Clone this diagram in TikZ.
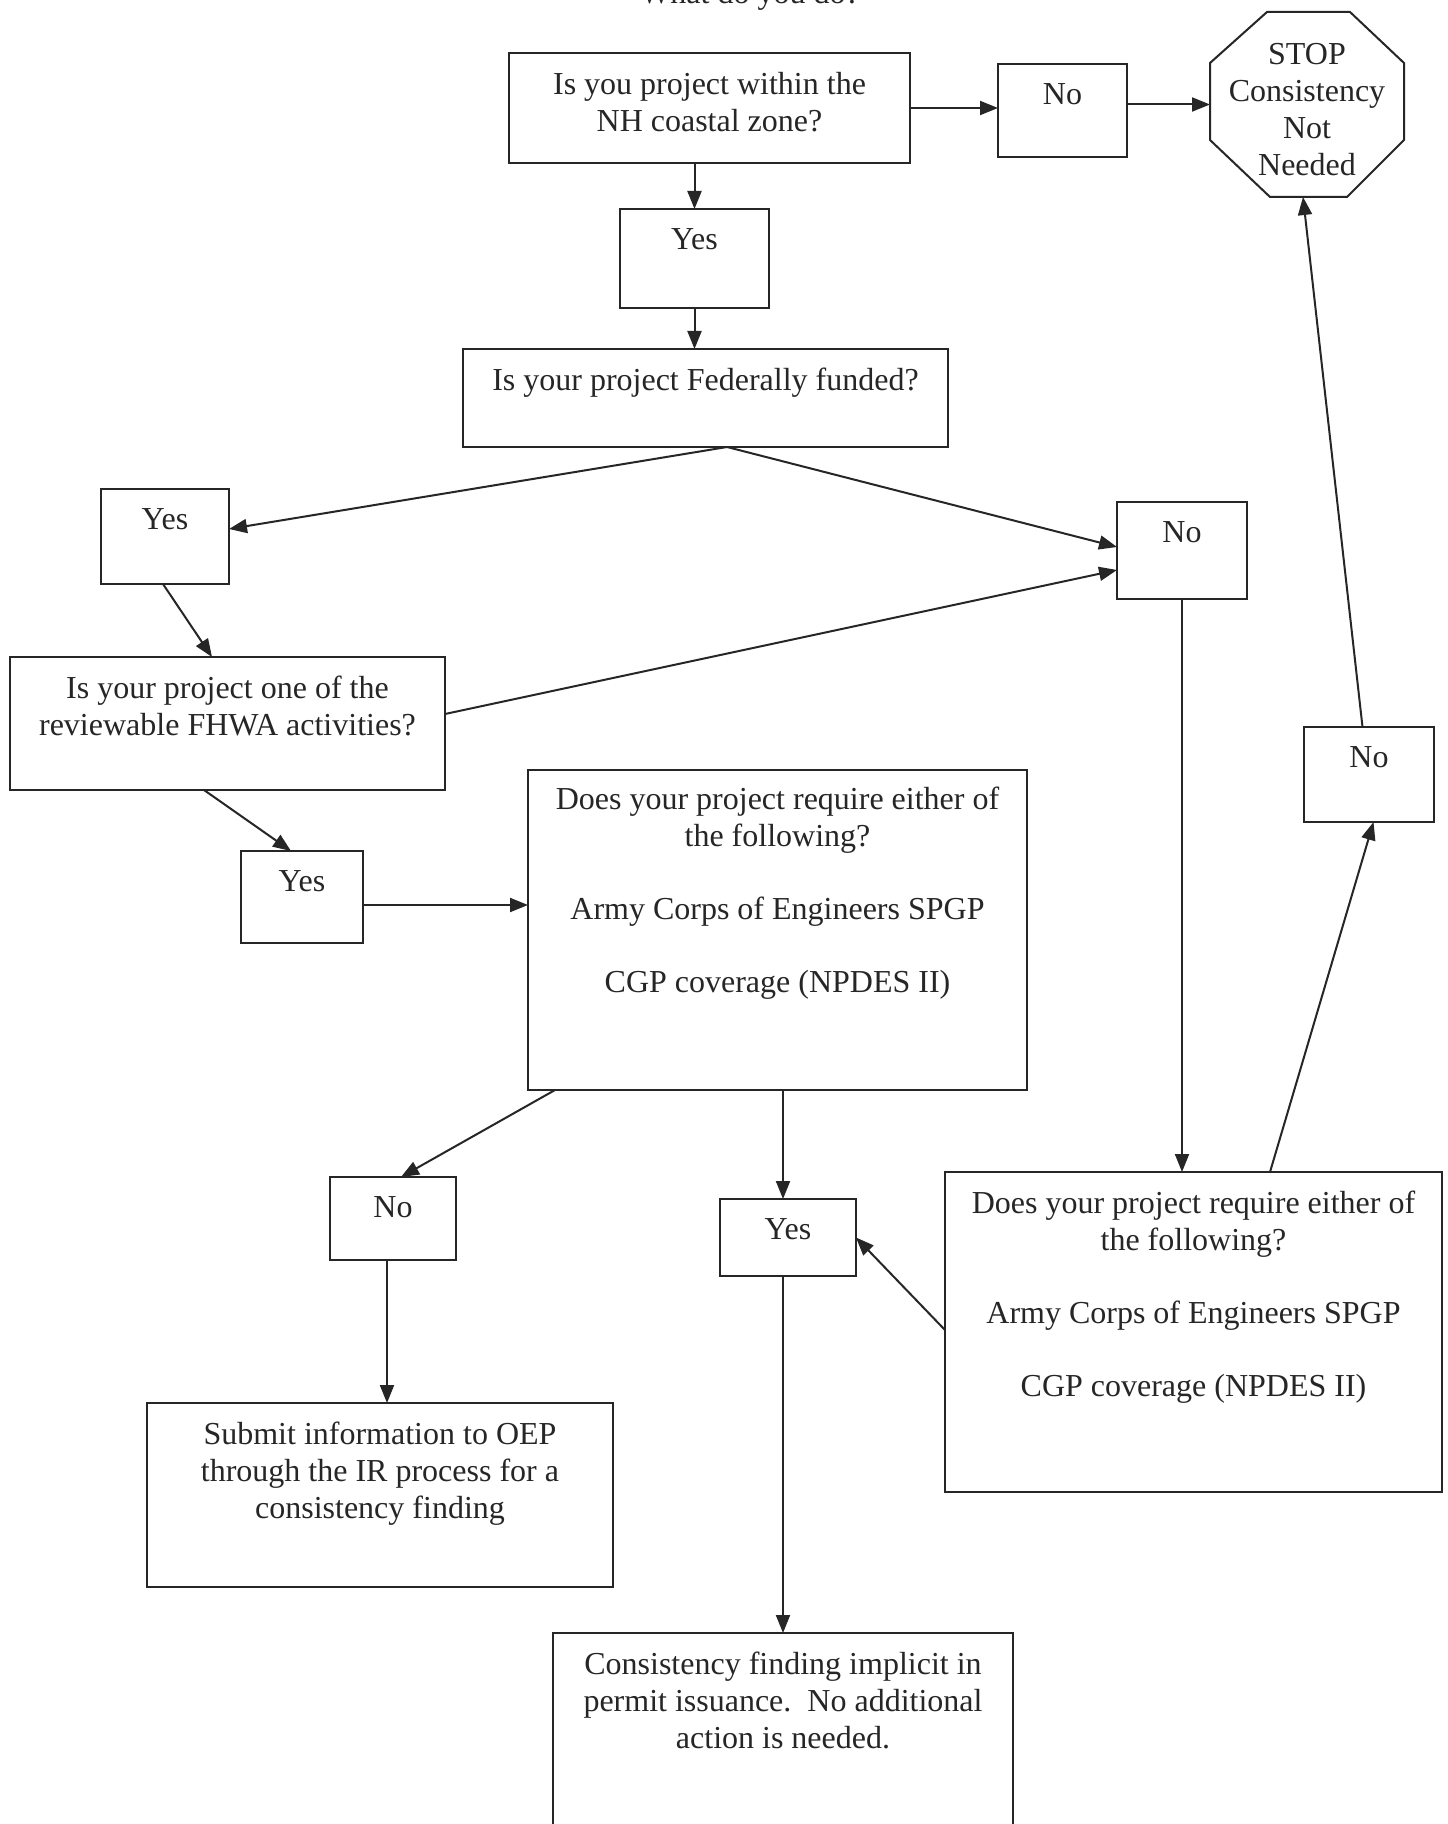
\documentclass[tikz,border=0pt]{standalone}
\usepackage{fontspec}
\setmainfont{Liberation Serif}
\usetikzlibrary{arrows.meta,calc}
\newcommand{\flbox}[5]{\node[box, minimum width={(#4-#2)*0.5pt}, minimum height={(#5-#3)*0.5pt}] (#1) at ({(#2+#4)/2},{(#3+#5)/2}) {};}
\begin{document}
\begin{tikzpicture}[x=0.5pt,y=-0.5pt,
  box/.style={draw=black!85, line width=1pt, inner sep=0pt, outer sep=0pt, rectangle},
  txt/.style={anchor=north, align=center, inner sep=0pt, text=black!85, font=\fontsize{16}{18.3}\selectfont},
  arr/.style={draw=black!85, line width=1pt, -{Triangle[length=9pt,width=7pt]}}]
\useasboundingbox (0,0) rectangle (1447,1824);
\fill[white] (0,0) rectangle (1447,1824);
% title (cut at top)
\node[anchor=base, inner sep=0pt, text=black!85, font=\fontsize{16}{18}\selectfont] (title) at (750,4) {What do you do?};
% boxes
\flbox{q1}{509}{53}{910}{163}
\flbox{no1}{998}{64}{1127}{157}
\flbox{yes1}{620}{209}{769}{308}
\flbox{q2}{463}{349}{948}{447}
\flbox{yes2}{101}{489}{229}{584}
\flbox{no2}{1117}{502}{1247}{599}
\flbox{q3}{10}{657}{445}{790}
\flbox{yes3}{241}{851}{363}{943}
\flbox{q4}{528}{770}{1027}{1090}
\flbox{no3}{330}{1177}{456}{1260}
\flbox{yes4}{720}{1199}{856}{1276}
\flbox{q5}{945}{1172}{1442}{1492}
\flbox{no4}{1304}{727}{1434}{822}
\flbox{sub}{147}{1403}{613}{1587}
\flbox{cons}{553}{1633}{1013}{1900}
% stop octagon
\node[inner sep=0pt, outer sep=0pt, minimum width=97pt, minimum height=92.5pt] (stop) at (1307,104.5) {};
\draw[black!85, line width=1pt] (1267,12) -- (1350,12) -- (1404,63) -- (1404,140) -- (1347,197) -- (1270,197) -- (1210,140) -- (1210,63) -- cycle;
\node[inner sep=0pt, align=center, text=black!85, font=\fontsize{16}{18.5}\selectfont] (stopt) at ([yshift=-2.3pt]stop.center) {STOP\\Consistency\\Not\\Needed};
% texts
\node[txt] (q1t) at ([yshift=-9.5pt]q1.north) {Is you project within the\\NH coastal zone?};
\node[txt] (no1t) at ([yshift=-9.5pt]no1.north) {No};
\node[txt] (yes1t) at ([yshift=-9.5pt]yes1.north) {Yes};
\node[txt] (q2t) at ([yshift=-9.5pt]q2.north) {Is your project Federally funded?};
\node[txt] (yes2t) at ([yshift=-9.5pt]yes2.north) {Yes};
\node[txt] (no2t) at ([yshift=-9.5pt]no2.north) {No};
\node[txt] (q3t) at ([yshift=-9.5pt]q3.north) {Is your project one of the\\reviewable FHWA activities?};
\node[txt] (yes3t) at ([yshift=-9.5pt]yes3.north) {Yes};
\node[txt] (q4t) at ([yshift=-8.5pt]q4.north) {Does your project require either of\\the following?\\[18.3pt]Army Corps of Engineers SPGP\\[18.3pt]CGP coverage (NPDES II)};
\node[txt] (no3t) at ([yshift=-9.5pt]no3.north) {No};
\node[txt] (yes4t) at ([yshift=-9.5pt]yes4.north) {Yes};
\node[txt] (q5t) at ([yshift=-9.5pt]q5.north) {Does your project require either of\\the following?\\[18.3pt]Army Corps of Engineers SPGP\\[18.3pt]CGP coverage (NPDES II)};
\node[txt] (no4t) at ([yshift=-9.5pt]no4.north) {No};
\node[txt] (subt) at ([yshift=-9.5pt]sub.north) {Submit information to OEP\\through the IR process for a\\consistency finding};
\node[txt] (const) at ([yshift=-9.5pt]cons.north) {Consistency finding implicit in\\permit issuance.\ \ No additional\\action is needed.};
% connectors
\draw[arr] (q1.east) -- (q1.east -| no1.west);
\draw[arr] (no1.east |- stop.west) -- (stop.west);
\draw[arr] (q1.south -| yes1.north) -- (yes1.north);
\draw[arr] (yes1.south) -- (yes1.south |- q2.north);
\coordinate (q2b) at ([xshift=10.75pt]q2.south);
\draw[arr] (q2b) -- ([yshift=3.75pt]yes2.east);
\draw[arr] (q2b) -- ([yshift=1.75pt]no2.west);
\draw[arr] ([xshift=-1pt]yes2.south) -- ([xshift=-7.75pt]q3.north);
\draw[arr] ([yshift=4.75pt]q3.east) -- ([yshift=-9.75pt]no2.west);
\draw[arr] ([xshift=-11.75pt]q3.south) -- ([xshift=-5.5pt]yes3.north);
\draw[arr] ([yshift=-4pt]yes3.east) -- ([yshift=-4pt]yes3.east -| q4.west);
\draw[arr] ([xshift=-111.25pt]q4.south) -- ([xshift=4pt]no3.north);
\coordinate (y4n) at ([xshift=-2.5pt]yes4.north);
\draw[arr] (y4n |- q4.south) -- (y4n);
\coordinate (n3s) at ([xshift=-3pt]no3.south);
\draw[arr] (n3s) -- (n3s |- sub.north);
\coordinate (y4s) at ([xshift=-2.5pt]yes4.south);
\draw[arr] (y4s) -- (y4s |- cons.north);
\draw[arr] (no2.south) -- (no2.south |- q5.north);
\draw[arr] ([xshift=38.25pt]q5.north) -- ([xshift=2.25pt]no4.south);
\draw[arr] ([xshift=-3.25pt]no4.north) -- ([xshift=-2pt]stop.south);
\draw[arr] ([yshift=1pt]q5.west) -- (yes4.east);
\end{tikzpicture}
\end{document}
